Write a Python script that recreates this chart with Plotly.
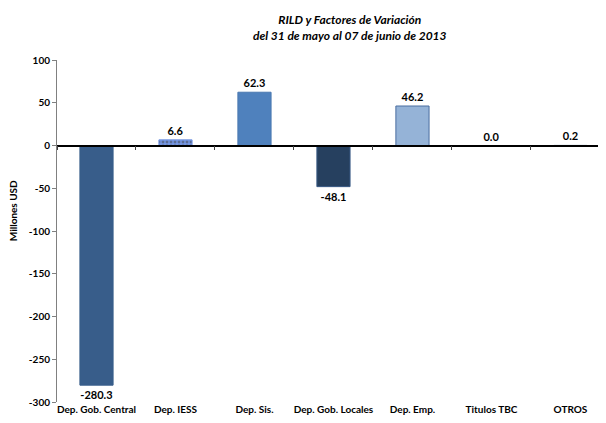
import plotly.graph_objects as go

categories = ['Dep. Gob. Central', 'Dep. IESS', 'Dep. Sis.', 'Dep. Gob. Locales',
              'Dep. Emp.', 'Titulos TBC', 'OTROS']
values = [-280.3, 6.6, 62.3, -48.1, 46.2, 0.0, 0.2]
y_ticks = [100, 50, 0, -50, -100, -150, -200, -250, -300]

fill_colors = ['#385D8A', '#7395E3', '#4F81BD', '#26405F', '#95B3D7', '#95B3D7', '#B9CEDC']
line_colors = ['#385D8A', '#7395E3', '#4A78B0', '#3A5A85', '#4A6EA0', '#4A6EA0', '#9FB8C8']
patterns = ['', '.', '', '', '', '', '']

FONT = 'Lato, DejaVu Sans Condensed, sans-serif'

fig = go.Figure()
fig.add_trace(go.Bar(
    x=categories,
    y=values,
    width=0.42,
    marker=dict(color=fill_colors,
                line=dict(color=line_colors, width=1),
                pattern=dict(shape=patterns, fgcolor='#A8BCF0', size=4, solidity=0.4)),
    text=[f'<b>{v:.1f}</b>' for v in values],
    textposition='outside',
    textfont=dict(family=FONT, size=11, color='black'),
    cliponaxis=False,
    hoverinfo='skip',
))
# invisible trace to carry the zero-line axis with boundary ticks
fig.add_trace(go.Scatter(x=categories, y=[0] * len(categories), xaxis='x2',
                         mode='markers', marker=dict(opacity=0), hoverinfo='skip',
                         showlegend=False))

fig.update_layout(
    width=606, height=423,
    margin=dict(l=49, r=8, t=52, b=29),
    plot_bgcolor='white', paper_bgcolor='white',
    showlegend=False,
    font=dict(family=FONT, color='black'),
    title=dict(text='<b><i>RILD y Factores de Variación<br>del 31 de mayo al 07 de junio de 2013</i></b>',
               x=0.564, xanchor='center', y=0.962, yanchor='top',
               font=dict(family=FONT, size=12, color='black')),
    xaxis=dict(categoryorder='array', categoryarray=categories,
               tickvals=categories, ticktext=[f'<b>{c}</b>' for c in categories],
               range=[-0.5, 6.45], showline=False, ticks='', showgrid=False,
               automargin=False,
               tickfont=dict(family=FONT, size=10, color='black')),
    xaxis2=dict(overlaying='x', matches='x', anchor='free', position=0.75,
                showline=True, linecolor='black', linewidth=1.5,
                ticks='outside', ticklen=4, tickcolor='#404040',
                tickson='boundaries', showticklabels=False, showgrid=False),
    yaxis=dict(range=[-300, 100], tickvals=y_ticks,
               ticktext=[f'<b>{t}</b>' for t in y_ticks],
               showgrid=False, zeroline=False, automargin=False,
               showline=True, linecolor='#808080', linewidth=1,
               ticks='outside', ticklen=4, tickcolor='#808080',
               tickfont=dict(family=FONT, size=10, color='black')),
    annotations=[dict(text='<b>Millones USD</b>', x=-0.08, y=0.558, xref='paper', yref='paper',
                      xanchor='center', yanchor='middle',
                      textangle=-90, showarrow=False,
                      font=dict(family=FONT, size=10, color='black'))],
)

fig.write_html('out.html')
